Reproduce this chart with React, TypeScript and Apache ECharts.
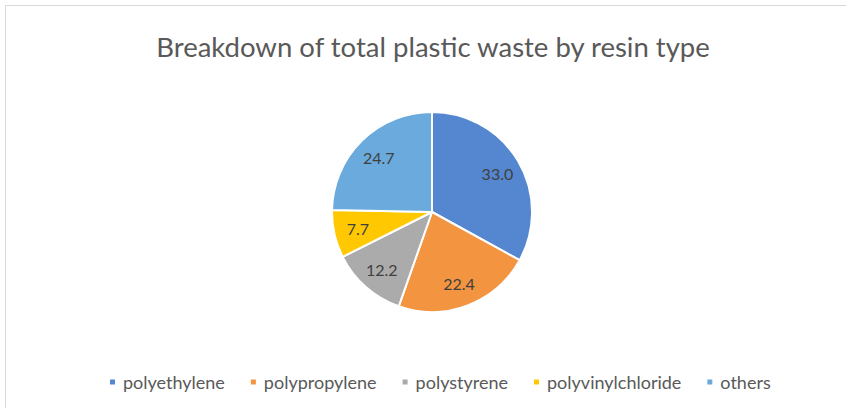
import React, { useEffect, useRef } from "react";
import * as echarts from "echarts";

const categories = ["polyethylene", "polypropylene", "polystyrene", "polyvinylchloride", "others"];
const values = [33.0, 22.4, 12.2, 7.7, 24.7];
const colors = ["#5487D0", "#F29440", "#ABABAB", "#FFC800", "#6AAADC"];
const titleText = "Breakdown of total plastic waste by resin type";

const FONT = "Lato";

export default function App() {
  const ref = useRef<HTMLDivElement>(null);
  useEffect(() => {
    document.body.style.margin = "0";
    const chart = echarts.init(ref.current!, null, { renderer: "svg" });
    const data = categories.map((name, i) => ({ name, value: values[i], itemStyle: { color: colors[i] } }));
    chart.setOption({
      animation: false,
      backgroundColor: "#ffffff",
      title: {
        text: titleText,
        left: 428,
        textAlign: "center",
        top: 27,
        textStyle: { fontFamily: FONT, fontSize: 27.5, fontWeight: "normal", color: "#595959" },
      },
      legend: {
        data: categories,
        left: 103,
        top: 368,
        icon: "rect",
        itemWidth: 7,
        itemHeight: 7,
        itemGap: 24,
        textStyle: { fontFamily: FONT, fontSize: 18, color: "#595959", padding: [0, 0, 0, 2] },
      },
      graphic: [
        { type: "line", shape: { x1: 5.5, y1: 5.5, x2: 5.5, y2: 420 }, style: { stroke: "#d9d9d9", lineWidth: 1 } },
        { type: "line", shape: { x1: 5.5, y1: 5.5, x2: 860, y2: 5.5 }, style: { stroke: "#d9d9d9", lineWidth: 1 } },
      ],
      series: [
        {
          type: "pie",
          center: [432, 212],
          radius: [0, 100],
          startAngle: 90,
          clockwise: true,
          data,
          label: { show: false },
          labelLine: { show: false },
          itemStyle: { borderColor: "#ffffff", borderWidth: 2 },
          emphasis: { disabled: true },
          silent: true,
        },
        {
          type: "pie",
          center: [432, 212],
          radius: [0, 146],
          startAngle: 90,
          clockwise: true,
          data: categories.map((name, i) => ({ name, value: values[i], itemStyle: { color: "rgba(0,0,0,0)" } })),
          label: {
            show: true,
            position: "inside",
            formatter: (p: any) => Number(p.value).toFixed(1),
            fontFamily: FONT,
            fontSize: 16,
            color: "#404040",
          },
          labelLine: { show: false },
          itemStyle: { borderWidth: 0 },
          emphasis: { disabled: true },
          silent: true,
          z: 3,
        },
      ],
    });
    return () => chart.dispose();
  }, []);
  return <div ref={ref} style={{ position: "fixed", left: 0, top: 0, width: 846, height: 408 }} />;
}
